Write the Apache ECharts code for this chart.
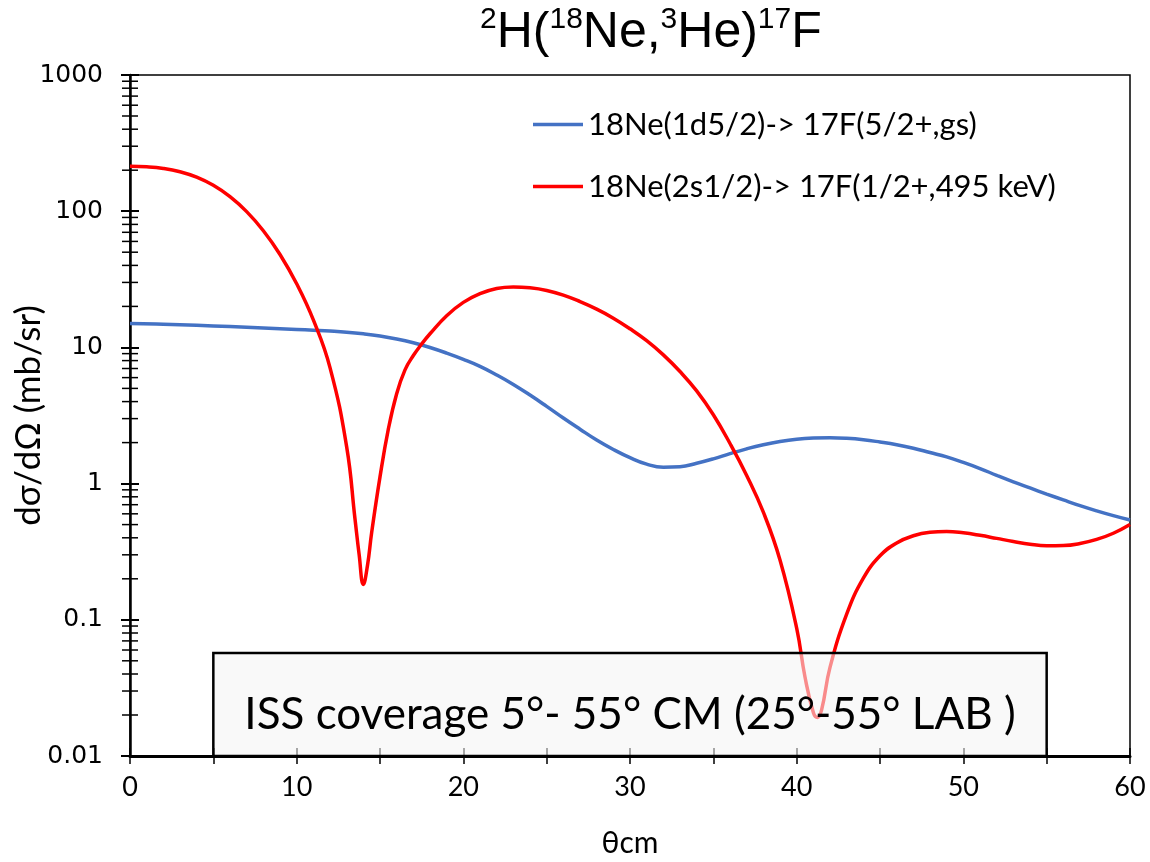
<!DOCTYPE html>
<html>
<head>
<meta charset="utf-8">
<script src="https://cdn.jsdelivr.net/npm/echarts@6/dist/echarts.min.js"></script>
<style>html,body{margin:0;padding:0;background:#fff;}#c{width:1150px;height:862px;}</style>
</head>
<body>
<div id="c"></div>
<script>
// ---- data ----
const seriesNames = ['18Ne(1d5/2)-> 17F(5/2+,gs)', '18Ne(2s1/2)-> 17F(1/2+,495 keV)'];

const blueTheta = [0,2,4,6,8,10,11,12,13,14,15,16,17,18,19,20,21,22,23,24,25,26,27,28,29,30,31,32,33,34,35,36,37,38,39,40,41,42,43,44,45,46,47,48,49,50,51,52,53,54,55,56,57,58,59,60];
const blueValues = [15.0,14.79,14.52,14.22,13.9,13.55,13.37,13.18,12.94,12.59,12.13,11.53,10.81,9.98,9.08,8.17,7.26,6.28,5.35,4.47,3.69,3.03,2.51,2.09,1.78,1.55,1.39,1.32,1.33,1.41,1.52,1.66,1.8,1.93,2.04,2.12,2.16,2.17,2.15,2.1,2.02,1.93,1.82,1.69,1.57,1.43,1.29,1.15,1.03,0.929,0.838,0.759,0.689,0.631,0.582,0.54];

const redTheta = [0,1,2,3,4,5,6,7,8,9,10,11,12,13,13.5,13.75,14,14.25,14.5,15,15.5,16,16.5,17,17.5,18,19,20,21,22,23,24,25,26,27,28,29,30,31,32,33,34,35,36,37,38,39,40,40.5,41,41.25,41.5,42,43,44,45,46,47,48,49,50,51,52,53,54,55,56,57,58,59,60];
const redValues = [213.8,211.8,206.1,195,177.8,154.9,127.9,99.3,71.9,48.1,29.3,15.9,7.11,1.86,0.55,0.30,0.182,0.251,0.437,1.12,2.51,4.57,6.84,8.71,10.6,12.6,17.1,21.4,24.8,27.1,27.8,27.4,26.2,24.2,21.7,19.1,16.4,13.7,11.2,8.81,6.65,4.79,3.2,1.97,1.148,0.617,0.275,0.087,0.038,0.0209,0.0192,0.0219,0.0447,0.11,0.202,0.295,0.367,0.414,0.439,0.445,0.435,0.417,0.396,0.376,0.359,0.35,0.351,0.363,0.389,0.432,0.501];

const yTickLabels = {'-2':'0.01','-1':'0.1','0':'1','1':'10','2':'100','3':'1000'};
const xTickLabels = ['0','10','20','30','40','50','60'];
const yDecades = [0.01, 0.1, 1, 10, 100];
const yMinorMultipliers = [2,3,4,5,6,7,8,9];

const boxText = 'ISS coverage 5°- 55° CM (25°-55° LAB )';
const boxRange = [[5, 0.01], [55, 0.057]];

const titleRich = '{s|2}{m|H(}{s|18}{m|Ne,}{s|3}{m|He)}{s|17}{m|F}';

// ---- build ----
const zip = (a, b) => a.map((x, i) => [x, b[i]]);
const yMinorTicks = [];
yDecades.forEach(d => yMinorMultipliers.forEach(m => yMinorTicks.push([0, d * m])));

const chart = echarts.init(document.getElementById('c'), null, {renderer: 'canvas'});
const logAxisBase = {type: 'log', logBase: 10, min: 0.01, max: 1000, splitLine: {show: false}};
const option = {
  animation: false,
  backgroundColor: '#fff',
  title: {
    text: titleRich, left: 480, top: 5, padding: 0,
    textStyle: {
      fontWeight: 'normal',
      rich: {
        m: {fontFamily: 'Liberation Sans', fontWeight: 'normal', fontSize: 50, lineHeight: 56, color: '#000'},
        s: {fontFamily: 'Liberation Sans', fontWeight: 'normal', fontSize: 30, lineHeight: 41, verticalAlign: 'top', color: '#000'}
      }
    }
  },
  legend: {
    data: seriesNames, orient: 'vertical', left: 533, top: 109, padding: 0,
    itemWidth: 50, itemHeight: 3.5, itemGap: 31, icon: 'rect',
    textStyle: {fontFamily: 'Lato', fontSize: 31, lineHeight: 30, color: '#000'}
  },
  grid: {left: 130, right: 20, top: 75, bottom: 106, outerBoundsMode: 'none', containLabel: false,
    show: true, borderColor: '#000', borderWidth: 1.5, backgroundColor: 'transparent'},
  xAxis: [{
    type: 'value', min: 0, max: 60, interval: 10,
    name: 'θcm', nameLocation: 'middle', nameGap: 72,
    nameTextStyle: {fontFamily: 'Lato', fontSize: 30, color: '#000'},
    axisLine: {lineStyle: {color: '#000', width: 3}},
    axisTick: {length: 8, lineStyle: {color: '#000', width: 1.5}},
    minorTick: {show: true, splitNumber: 2, length: 8, lineStyle: {color: '#000', width: 1.5}},
    axisLabel: {margin: 18, fontFamily: 'Lato', fontSize: 27, color: '#000',
      formatter: v => xTickLabels[Math.round(v / 10)]},
    splitLine: {show: false}
  }, {
    type: 'value', min: 0, max: 60, interval: 10, position: 'bottom',
    axisLine: {show: false},
    axisTick: {inside: true, length: 8, lineStyle: {color: '#000', width: 1.5}},
    minorTick: {show: true, splitNumber: 2, length: 8, lineStyle: {color: '#000', width: 1.5}},
    axisLabel: {show: false}, splitLine: {show: false}
  }],
  yAxis: [Object.assign({}, logAxisBase, {
    name: 'dσ/dΩ (mb/sr)', nameLocation: 'middle', nameGap: 84, nameRotate: 90, nameMoveOverlap: false,
    nameTextStyle: {fontFamily: 'Lato', fontSize: 35, color: '#000'},
    axisLine: {lineStyle: {color: '#000', width: 2.5}},
    axisTick: {length: 9, lineStyle: {color: '#000', width: 2}},
    axisLabel: {margin: 27, fontFamily: 'DejaVu Sans', fontSize: 25, color: '#000',
      formatter: v => yTickLabels[String(Math.round(Math.log10(v)))]}
  }), Object.assign({}, logAxisBase, {
    position: 'left',
    axisLine: {show: false},
    axisTick: {inside: true, length: 9, lineStyle: {color: '#000', width: 2}},
    axisLabel: {show: false}
  })],
  series: [{
    name: seriesNames[0], type: 'line', data: zip(blueTheta, blueValues),
    showSymbol: false, smooth: 0.45, z: 3,
    lineStyle: {color: '#4472C4', width: 3.5}, itemStyle: {color: '#4472C4'}
  }, {
    name: seriesNames[1], type: 'line', data: zip(redTheta, redValues),
    showSymbol: false, smooth: 0.45, z: 4,
    lineStyle: {color: '#FF0000', width: 3.5}, itemStyle: {color: '#FF0000'}
  }, {
    name: 'minorTicks', type: 'custom', data: yMinorTicks, clip: false, silent: true, z: 6,
    encode: {x: 0, y: 1},
    renderItem: (params, api) => {
      const p = api.coord([api.value(0), api.value(1)]);
      return {type: 'line', shape: {x1: p[0] - 8, y1: p[1], x2: p[0] + 8, y2: p[1]},
        style: {stroke: '#000', lineWidth: 1.5}};
    }
  }, {
    name: 'box', type: 'line', data: [], z: 10, silent: true,
    markArea: {
      silent: true, z: 10,
      itemStyle: {color: 'rgba(245,245,245,0.57)', borderColor: '#000', borderWidth: 2.5},
      label: {show: true, position: 'inside', offset: [0, 10], formatter: boxText,
        fontFamily: 'Lato', fontSize: 44, color: '#000'},
      data: [[{coord: boxRange[0]}, {coord: boxRange[1]}]]
    }
  }]
};
chart.setOption(option);
</script>
</body>
</html>
